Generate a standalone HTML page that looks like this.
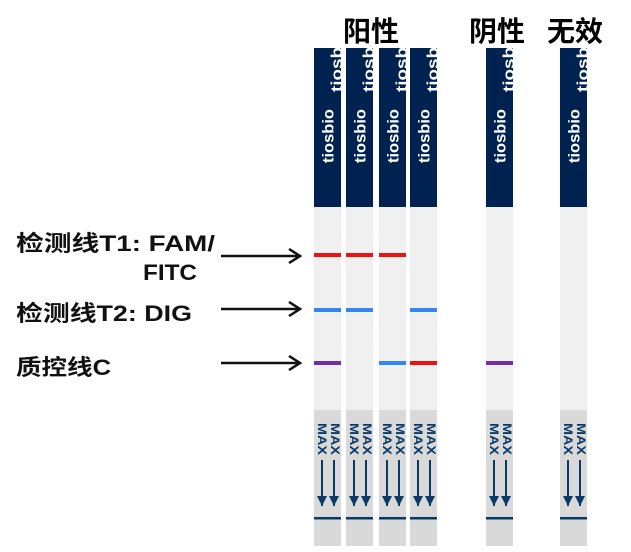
<!DOCTYPE html>
<html><head><meta charset="utf-8"><style>
html,body{margin:0;padding:0;background:#fff;}
svg text{font-family:"Liberation Sans","Noto Sans CJK SC",sans-serif;}
</style></head><body>
<svg width="631" height="547" viewBox="0 0 631 547" xmlns="http://www.w3.org/2000/svg">
<defs>
<marker id="ar" markerWidth="14" markerHeight="16" refX="12" refY="8" orient="auto" markerUnits="userSpaceOnUse"><path d="M1,1 L12,8 L1,15" fill="none" stroke="#111" stroke-width="2.5"/></marker>
<marker id="da" markerWidth="10" markerHeight="10" refX="5" refY="10" orient="0" markerUnits="userSpaceOnUse"><path d="M0,0 L10,0 L5,10Z" fill="#0a3a66"/></marker>
<clipPath id="cp"><rect x="0" y="48" width="27" height="160"/></clipPath>
<g id="strip">
<rect x="0" y="207" width="27" height="203" fill="#f0f0f0"/>
<rect x="0" y="410" width="27" height="136" fill="#d9d9d9"/>
<rect x="0" y="48" width="27" height="159" fill="#002251"/>
<g clip-path="url(#cp)">
<text transform="translate(19.5,163) rotate(-90)" font-size="15.5" font-weight="bold" fill="#fff" textLength="54" lengthAdjust="spacingAndGlyphs">tiosbio</text>
<text transform="translate(28,92) rotate(-90)" font-size="15.5" font-weight="bold" fill="#fff" textLength="45" lengthAdjust="spacingAndGlyphs">tiosb</text>
</g>
<text transform="translate(4,423) rotate(90)" font-size="12" font-weight="bold" fill="#0a3a66" textLength="32" lengthAdjust="spacingAndGlyphs">MAX</text>
<text transform="translate(17,423) rotate(90)" font-size="12" font-weight="bold" fill="#0a3a66" textLength="32" lengthAdjust="spacingAndGlyphs">MAX</text>
<line x1="8" y1="460" x2="8" y2="506" stroke="#0a3a66" stroke-width="2" marker-end="url(#da)"/>
<line x1="20" y1="460" x2="20" y2="506" stroke="#0a3a66" stroke-width="2" marker-end="url(#da)"/>
<rect x="0" y="517" width="27" height="2.5" fill="#0a3a66"/>
</g>
</defs>
<g font-weight="bold" font-size="28" fill="#000">
<text x="343" y="41">阳性</text>
<text x="469" y="41">阴性</text>
<text x="547" y="41">无效</text>
</g>
<use href="#strip" x="314"/>
<use href="#strip" x="346"/>
<use href="#strip" x="379"/>
<use href="#strip" x="410"/>
<use href="#strip" x="486"/>
<use href="#strip" x="560"/>
<g>
<rect x="314" y="253" width="27" height="4" fill="#ee1111"/>
<rect x="314" y="308" width="27" height="4" fill="#3388ee"/>
<rect x="314" y="361" width="27" height="4" fill="#7030a0"/>
<rect x="346" y="253" width="27" height="4" fill="#ee1111"/>
<rect x="346" y="308" width="27" height="4" fill="#3388ee"/>
<rect x="379" y="253" width="27" height="4" fill="#ee1111"/>
<rect x="379" y="361" width="27" height="4" fill="#3388ee"/>
<rect x="410" y="308" width="27" height="4" fill="#3388ee"/>
<rect x="410" y="361" width="27" height="4" fill="#ee1111"/>
<rect x="486" y="361" width="27" height="4" fill="#7030a0"/>
</g>
<g font-weight="bold" font-size="22" fill="#111">
<text x="16" y="251" textLength="199" lengthAdjust="spacingAndGlyphs">检测线T1: FAM/</text>
<text x="143" y="280" textLength="54" lengthAdjust="spacingAndGlyphs">FITC</text>
<text x="16" y="321" textLength="176" lengthAdjust="spacingAndGlyphs">检测线T2: DIG</text>
<text x="16" y="375" textLength="95" lengthAdjust="spacingAndGlyphs">质控线C</text>
</g>
<g stroke="#111" stroke-width="2.5">
<line x1="221" y1="256" x2="300" y2="256" marker-end="url(#ar)"/>
<line x1="221" y1="309" x2="300" y2="309" marker-end="url(#ar)"/>
<line x1="221" y1="363" x2="300" y2="363" marker-end="url(#ar)"/>
</g>
</svg>
</body></html>
